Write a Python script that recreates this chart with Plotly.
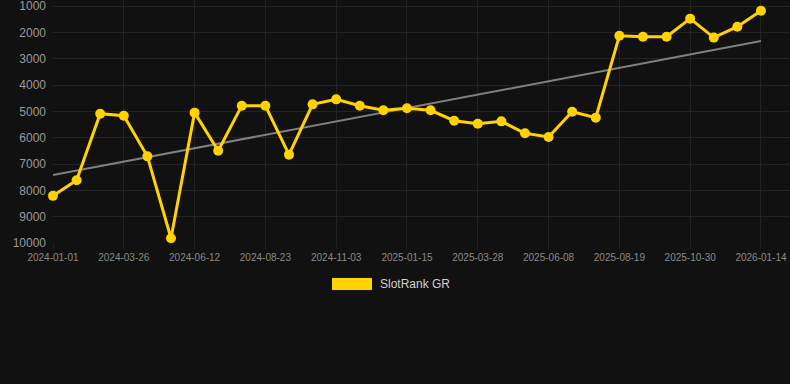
import plotly.graph_objects as go

dates = [
    "2024-01-01", "2024-01-29", "2024-02-27", "2024-03-26", "2024-04-22", "2024-05-17",
    "2024-06-12", "2024-07-06", "2024-07-30", "2024-08-23", "2024-09-16", "2024-10-10",
    "2024-11-03", "2024-11-27", "2024-12-22", "2025-01-15", "2025-02-08", "2025-03-04",
    "2025-03-28", "2025-04-21", "2025-05-15", "2025-06-08", "2025-07-02", "2025-07-26",
    "2025-08-19", "2025-09-12", "2025-10-06", "2025-10-30", "2025-11-24", "2025-12-19",
    "2026-01-14",
]
ranks = [
    8210, 7620, 5090, 5165, 6710, 9820,
    5050, 6495, 4785, 4790, 6645, 4735,
    4545, 4785, 4960, 4885, 4960, 5355,
    5470, 5380, 5835, 5975, 5015, 5240,
    2130, 2165, 2170, 1480, 2200, 1785,
    1180,
]
trend_dates = [dates[0], dates[-1]]
trend_values = [7420, 2330]
tick_labels = dates[::3]
y_ticks = [1000, 2000, 3000, 4000, 5000, 6000, 7000, 8000, 9000, 10000]
series_name = "SlotRank GR"

BG = "#111111"
GOLD = "#FFD200"
GRID = "#232323"
FONT = "Liberation Sans, Arial, sans-serif"

fig = go.Figure()
fig.add_trace(go.Scatter(
    x=trend_dates, y=trend_values, mode="lines",
    line=dict(color="#808080", width=2), hoverinfo="skip", showlegend=False,
))
fig.add_trace(go.Scatter(
    x=dates, y=ranks, mode="lines+markers", name=series_name,
    line=dict(color=GOLD, width=3),
    marker=dict(color=GOLD, size=10),
    cliponaxis=False, showlegend=False,
))

fig.update_layout(
    width=790, height=384,
    paper_bgcolor=BG, plot_bgcolor=BG,
    margin=dict(l=53, r=0, t=0, b=141),
    font=dict(family=FONT, color="#9a9a9a"),
    showlegend=False,
    xaxis=dict(
        type="category", categoryorder="array", categoryarray=dates,
        range=[0, 31.23],
        tickmode="array", tickvals=tick_labels, ticktext=tick_labels,
        tickfont=dict(size=10, color="#8a8a8a"),
        showgrid=True, gridcolor=GRID, gridwidth=1,
        zeroline=False, showline=False,
        ticks="outside", ticklen=5, tickcolor=GRID,
    ),
    yaxis=dict(
        range=[10000, 772],
        tickmode="array", tickvals=y_ticks, ticktext=[str(v) for v in y_ticks],
        tickfont=dict(size=12, color="#9a9a9a"),
        showgrid=True, gridcolor=GRID, gridwidth=1,
        zeroline=False, showline=False,
        ticklabelstandoff=6, ticklabeloverflow="allow",
    ),
    shapes=[dict(
        type="rect", xref="paper", yref="paper",
        x0=(332 - 53) / 737, x1=(372 - 53) / 737,
        y0=(243 - 290) / 243, y1=(243 - 278) / 243,
        fillcolor=GOLD, line=dict(width=0),
    )],
    annotations=[dict(
        xref="paper", yref="paper", x=(378 - 53) / 737, y=(243 - 284) / 243,
        xanchor="left", yanchor="middle", showarrow=False,
        text=series_name, font=dict(size=12, color="#d0d0d0", family=FONT),
    )],
)

fig.write_html(
    "out.html",
    config={"displayModeBar": False},
    post_script="document.body.style.margin='0';document.body.style.background='#111111';document.body.style.overflow='hidden';",
)
